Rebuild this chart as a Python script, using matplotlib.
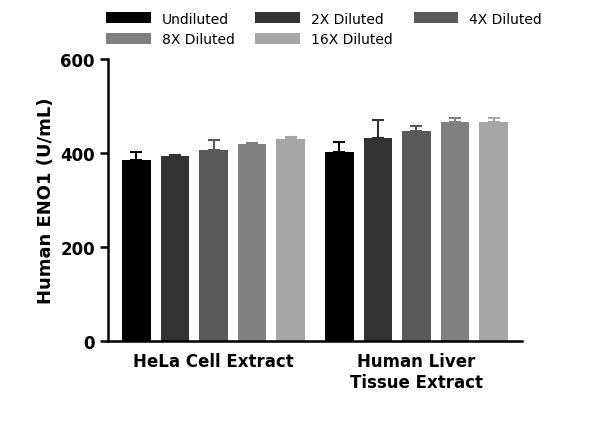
import numpy as np
import matplotlib.pyplot as plt

groups = ["HeLa Cell Extract", "Human Liver\nTissue Extract"]
series = ["Undiluted", "2X Diluted", "4X Diluted", "8X Diluted", "16X Diluted"]
values = [[385, 402], [393, 432], [407, 446], [419, 467], [429, 467]]
errors = [[18, 21], [2, 38], [20, 11], [2, 8], [5, 8]]
colors = ["#000000", "#333333", "#595959", "#808080", "#a6a6a6"]

fig = plt.figure(figsize=(6, 4.35), dpi=100)
ax = fig.add_axes([0.18, 0.214, 0.69, 0.648])

x = np.arange(len(groups)) * 1.0
w = 0.14
step = 0.19
handles = []
for i, s in enumerate(series):
    pos = x + (i - 2) * step
    b = ax.bar(pos, values[i], w, color=colors[i], label=s,
               yerr=[[0, 0], errors[i]], error_kw=dict(ecolor=colors[i], elinewidth=1.5, capsize=4, capthick=1.5))
    handles.append(b)

ax.set_xlim(-0.52, 1.52)
ax.set_ylim(0, 600)
ax.set_yticks([0, 200, 400, 600])
ax.set_xticks(x)
ax.set_xticklabels(groups, fontsize=12, fontweight="bold")
ax.set_ylabel("Human ENO1 (U/mL)", fontsize=13, fontweight="bold")
for lab in ax.get_yticklabels():
    lab.set_fontsize(12)
    lab.set_fontweight("bold")
for sp in ["top", "right"]:
    ax.spines[sp].set_visible(False)
for sp in ["left", "bottom"]:
    ax.spines[sp].set_linewidth(1.8)
ax.tick_params(width=1.8, length=6)
ax.tick_params(axis="x", length=0, pad=8)

order = [0, 3, 1, 4, 2]
fig.legend([handles[k] for k in order], [series[k] for k in order], ncol=3,
           loc="upper center", bbox_to_anchor=(0.54, 1.0), frameon=False,
           fontsize=10, handlelength=3.2, handleheight=0.8, columnspacing=1.5)

fig.savefig("out.png", dpi=100)
